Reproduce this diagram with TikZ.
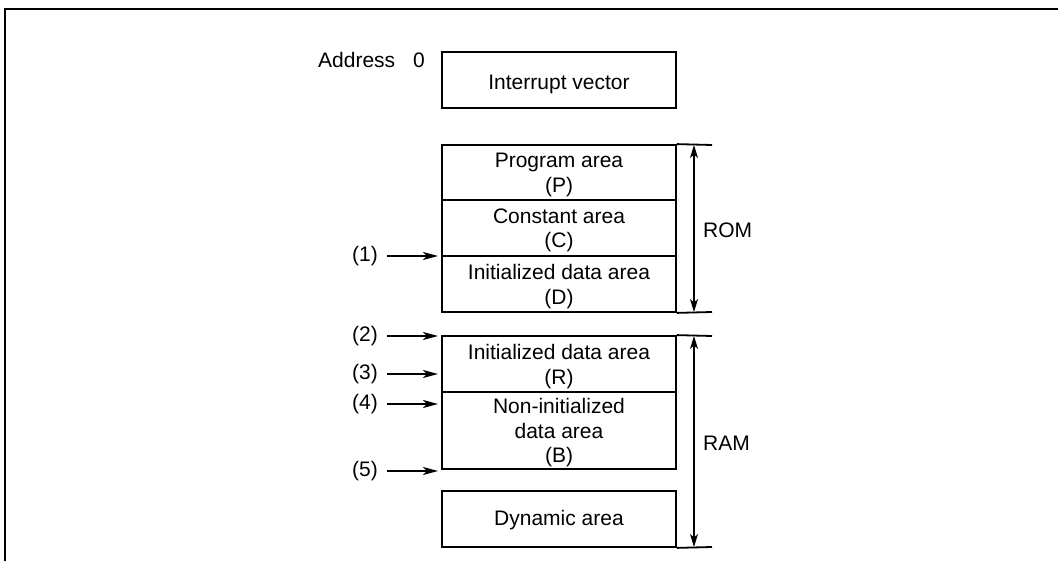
\documentclass[tikz,border=0pt]{standalone}
\usepackage{fontspec}
\setmainfont{Liberation Sans}
\usetikzlibrary{arrows.meta}
\begin{document}
\begin{tikzpicture}[x=1pt,y=-1pt,
  every node/.style={font=\fontsize{21}{24.5}\selectfont, inner sep=0pt},
  area/.style={draw, line width=1.8pt, minimum width=234pt, align=center},
  txt/.style={align=center},
  arr/.style={line width=1.5pt, -{Stealth[length=15pt,width=8pt,inset=4pt]}},
  dim/.style={line width=1.4pt, {Stealth[length=13pt,width=8pt,inset=3.5pt]}-{Stealth[length=13pt,width=8pt,inset=3.5pt]}},
  ext/.style={line width=1.8pt}]
\useasboundingbox (0,0) rectangle (1058,561);
% frame
\draw[line width=2.5pt] (5,561) -- (5,9) -- (1058,9);
% memory boxes
\node[area, minimum height=56pt] (iv) at (559,80) {};
\node[txt] at (559,84) {Interrupt vector};
\node[area, minimum height=55pt] (P) at (559,172.5) {};
\node[txt] at (559,175) {Program area\\(P)};
\node[area, minimum height=56pt] (C) at (559,228) {};
\node[txt] at (559,230.5) {Constant area\\(C)};
\node[area, minimum height=56pt] (D) at (559,284) {};
\node[txt] at (559,286.5) {Initialized data area\\(D)};
\node[area, minimum height=56pt] (R) at (559,364) {};
\node[txt] at (559,366.5) {Initialized data area\\(R)};
\node[area, minimum height=77pt] (B) at (559,430.5) {};
\node[txt] at (559,433) {Non-initialized\\data area\\(B)};
\node[area, minimum height=56pt] (dyn) at (559,519) {};
\node[txt] at (559,520) {Dynamic area};
% address label
\node[anchor=base west] (addr) at (318,68) {Address};
\node[anchor=base west] (zero) at (413,68) {0};
% extension lines
\coordinate (romT) at (712,145);
\coordinate (romB) at (712,312);
\coordinate (ramT) at (712,336);
\coordinate (ramB) at (712,547);
\draw[ext] (P.north east) -- (romT);
\draw[ext] (D.south east) -- (romB);
\draw[ext] (R.north east) -- (ramT);
\draw[ext] (dyn.south east) -- (ramB);
% dimension arrows
\coordinate (romA) at (694,145);
\coordinate (romZ) at (694,312);
\coordinate (ramA) at (694,336);
\coordinate (ramZ) at (694,547);
\draw[dim] (romA) -- (romZ);
\draw[dim] (ramA) -- (ramZ);
\node[anchor=west] (rom) at (703,230) {ROM};
\node[anchor=west] (ram) at (703,443) {RAM};
% numbered pointers
\node[anchor=east] (l1) at (378,256) {(1)};
\node[anchor=east] (l2) at (378,336) {(2)};
\node[anchor=east] (l3) at (378,374) {(3)};
\node[anchor=east] (l4) at (378,404) {(4)};
\node[anchor=east] (l5) at (378,471) {(5)};
\coordinate (t1) at (438,256);
\coordinate (t2) at (438,336);
\coordinate (t3) at (438,374);
\coordinate (t4) at (438,404);
\coordinate (t5) at (438,471);
\draw[arr, shorten <=9pt] (l1.east) -- (t1);
\draw[arr, shorten <=9pt] (l2.east) -- (t2);
\draw[arr, shorten <=9pt] (l3.east) -- (t3);
\draw[arr, shorten <=9pt] (l4.east) -- (t4);
\draw[arr, shorten <=9pt] (l5.east) -- (t5);
\end{tikzpicture}
\end{document}
